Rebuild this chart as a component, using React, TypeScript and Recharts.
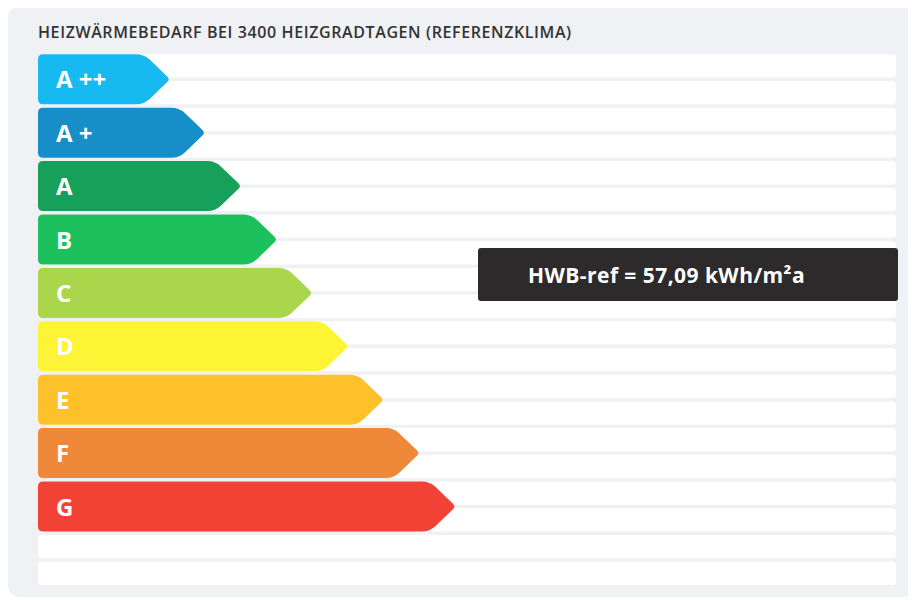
import React from "react";
import { BarChart, Bar, XAxis, YAxis, Cell, LabelList } from "recharts";

const classes = ["A ++", "A +", "A", "B", "C", "D", "E", "F", "G", " "];
const lengths = [15.4, 19.5, 23.7, 27.9, 32.0, 36.2, 40.3, 44.5, 48.7, 0];
const colors = ["#17b9f1", "#178ec7", "#16a05a", "#1cc05c", "#a9d64b", "#fdf435", "#fec12b", "#ef8838", "#f24236", "#ffffff"];
const title = "HEIZWÄRMEBEDARF BEI 3400 HEIZGRADTAGEN (REFERENZKLIMA)";
const resultLabel = "HWB-ref = 57,09 kWh/m²a";

const data = classes.map((name, i) => ({ name, value: lengths[i], color: colors[i] }));

type Pt = [number, number];

function roundedPolygon(pts: Pt[], radii: number[]): string {
  const n = pts.length;
  let d = "";
  for (let i = 0; i < n; i++) {
    const prev = pts[(i - 1 + n) % n];
    const cur = pts[i];
    const next = pts[(i + 1) % n];
    const r = radii[i];
    const v1x = prev[0] - cur[0], v1y = prev[1] - cur[1];
    const v2x = next[0] - cur[0], v2y = next[1] - cur[1];
    const l1 = Math.hypot(v1x, v1y) || 1;
    const l2 = Math.hypot(v2x, v2y) || 1;
    const a: Pt = [cur[0] + (v1x / l1) * r, cur[1] + (v1y / l1) * r];
    const b: Pt = [cur[0] + (v2x / l2) * r, cur[1] + (v2y / l2) * r];
    d += (i === 0 ? "M" : "L") + a[0] + "," + a[1] + " Q" + cur[0] + "," + cur[1] + " " + b[0] + "," + b[1] + " ";
  }
  return d + "Z";
}

const ArrowShape = (props: any) => {
  const { x, y, width, height, payload } = props;
  if (!width || width <= 0) return null;
  const tip = 26;
  const pts: Pt[] = [
    [x, y],
    [x + width - tip, y],
    [x + width, y + height / 2],
    [x + width - tip, y + height],
    [x, y + height],
  ];
  return <path d={roundedPolygon(pts, [5, 8, 4, 8, 5])} fill={payload.color} />;
};

const StripeBackground = (props: any) => {
  const { x, y, width, height } = props;
  const gap = 3.4;
  const h = (height - gap) / 2;
  return (
    <g>
      <rect x={x} y={y} width={width} height={h} rx={4} ry={4} fill="#ffffff" />
      <rect x={x} y={y + h + gap} width={width} height={h} rx={4} ry={4} fill="#ffffff" />
    </g>
  );
};

const ClassLabel = (props: any) => {
  const { x, y, height, value, width } = props;
  if (!width || width <= 0) return null;
  return (
    <text
      x={x + 18}
      y={y + height / 2 - 0.5}
      fill="#ffffff"
      fontFamily="'Open Sans', sans-serif"
      fontWeight={700}
      fontSize={24}
      dominantBaseline="central"
    >
      {value}
    </text>
  );
};

export default function App() {
  return (
    <div
      style={{
        position: "relative",
        width: 908,
        height: 591,
        marginTop: -2,
        background: "#eff1f4",
        borderRadius: 12,
        fontFamily: "'Open Sans', sans-serif",
      }}
    >
      <div
        style={{
          position: "absolute",
          left: 30,
          top: 16,
          fontSize: 16,
          fontWeight: 600,
          letterSpacing: 0.6,
          color: "#333333",
          whiteSpace: "nowrap",
          lineHeight: "20px",
        }}
      >
        {title}
      </div>
      <BarChart
        width={908}
        height={591}
        data={data}
        layout="vertical"
        margin={{ top: 46.3, right: 20, bottom: 10.7, left: 30 }}
        barSize={50}
      >
        <XAxis type="number" domain={[0, 100]} hide />
        <YAxis type="category" dataKey="name" hide />
        <Bar
          dataKey="value"
          isAnimationActive={false}
          shape={<ArrowShape />}
          background={<StripeBackground />}
        >
          {data.map((d, i) => (
            <Cell key={i} fill={d.color} />
          ))}
          <LabelList dataKey="name" content={<ClassLabel />} />
        </Bar>
      </BarChart>
      <div
        style={{
          position: "absolute",
          left: 470,
          top: 242,
          width: 420,
          height: 53,
          background: "#2d2a2b",
          borderRadius: 3,
          color: "#ffffff",
          fontSize: 21,
          fontWeight: 700,
          letterSpacing: 0.45,
          display: "flex",
          alignItems: "center",
          paddingLeft: 50,
          boxSizing: "border-box",
          whiteSpace: "nowrap",
        }}
      >
        {resultLabel}
      </div>
    </div>
  );
}
